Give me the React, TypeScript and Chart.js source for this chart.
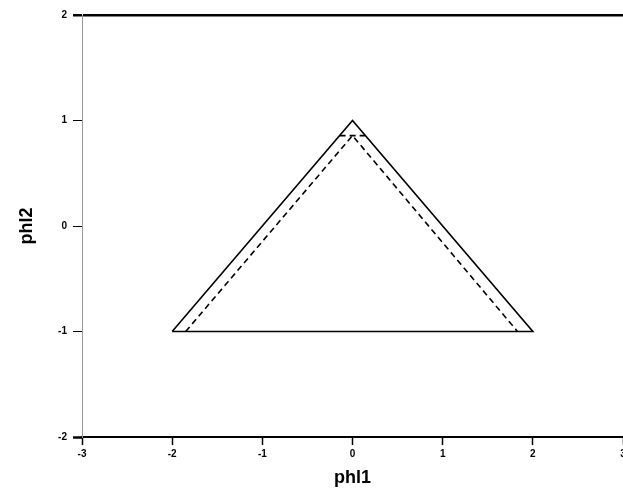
import React, { useEffect, useRef } from "react";
import { Chart, registerables } from "chart.js";

Chart.register(...registerables);

// Data
const solidX = [-2, 0, 2, -2];
const solidY = [-1, 1, -1, -1];
const dashedX = [-1.85, 0, 1.83];
const dashedY = [-1, 0.857, -1];
const capX = [-0.143, 0.143];
const capY = [0.857, 0.857];
const xTickValues = [-3, -2, -1, 0, 1, 2, 3];
const yTickValues = [-2, -1, 0, 1, 2];
const xTitle = "phl1";
const yTitle = "phl2";

const toPts = (xs: number[], ys: number[]) => xs.map((x, i) => ({ x, y: ys[i] }));

const FONT = "'Liberation Sans', Arial, sans-serif";

export default function App() {
  const ref = useRef<HTMLCanvasElement | null>(null);

  useEffect(() => {
    if (!ref.current) return;
    const chart = new Chart(ref.current, {
      type: "scatter",
      data: {
        datasets: [
          {
            data: toPts(solidX, solidY),
            showLine: true,
            borderColor: "#000",
            borderWidth: 1.6,
            pointRadius: 0,
            tension: 0,
          },
          {
            data: toPts(dashedX, dashedY),
            showLine: true,
            borderColor: "#000",
            borderWidth: 1.6,
            borderDash: [6, 4],
            pointRadius: 0,
            tension: 0,
          },
          {
            data: toPts(capX, capY),
            showLine: true,
            borderColor: "#000",
            borderWidth: 1.6,
            borderDash: [6, 4],
            pointRadius: 0,
            tension: 0,
          },
        ],
      },
      options: {
        responsive: false,
        animation: false,
        devicePixelRatio: 1,
        layout: { padding: { top: 15, right: 0, left: 0, bottom: 0 } },
        plugins: { legend: { display: false }, tooltip: { enabled: false } },
        scales: {
          x: {
            type: "linear",
            min: -3,
            max: 3,
            afterBuildTicks: (s: any) => {
              s.ticks = xTickValues.map((v) => ({ value: v }));
            },
            afterFit: (s: any) => {
              s.height = 53;
              s.paddingRight = 0;
            },
            border: { display: true, color: "#000", width: 2 },
            grid: {
              drawOnChartArea: true,
              color: (c: any) => (c.tick && c.tick.value === 3 ? "#aaa" : "rgba(0,0,0,0)"),
              lineWidth: 1,
              tickColor: "#000",
              tickWidth: 1.5,
              tickLength: 8,
            },
            ticks: {
              color: "#000",
              font: { family: FONT, size: 10, weight: "bold" },
              padding: 3,
              maxRotation: 0,
              autoSkip: false,
            },
            title: {
              display: true,
              text: xTitle,
              color: "#000",
              font: { family: FONT, size: 18, weight: "bold" },
              padding: { top: 0, bottom: 1 },
            },
          },
          y: {
            type: "linear",
            min: -2,
            max: 2,
            afterBuildTicks: (s: any) => {
              s.ticks = yTickValues.map((v) => ({ value: v }));
            },
            afterFit: (s: any) => {
              s.width = 82;
              s.paddingTop = 0;
              s.paddingBottom = 0;
            },
            border: { display: true, color: "#999", width: 1 },
            grid: {
              drawOnChartArea: true,
              color: (c: any) => (c.tick && c.tick.value === 2 ? "#000" : "rgba(0,0,0,0)"),
              lineWidth: (c: any) => (c.tick && c.tick.value === 2 ? 2.5 : 1),
              tickColor: "#000",
              tickWidth: (c: any) => (c.tick && Math.abs(c.tick.value) === 2 ? 2.5 : 1),
              tickLength: 9,
            },
            ticks: {
              color: "#000",
              font: { family: FONT, size: 10, weight: "bold" },
              padding: 6,
              autoSkip: false,
            },
            title: {
              display: true,
              text: yTitle,
              color: "#000",
              font: { family: FONT, size: 18, weight: "bold" },
              padding: { top: 16, bottom: 0 },
            },
          },
        },
      },
    } as any);
    return () => chart.destroy();
  }, []);

  return (
    <div style={{ position: "absolute", left: 0, top: 0, width: 623, height: 490, background: "#fff" }}>
      <canvas ref={ref} width={623} height={490} style={{ width: 623, height: 490, display: "block" }} />
    </div>
  );
}
